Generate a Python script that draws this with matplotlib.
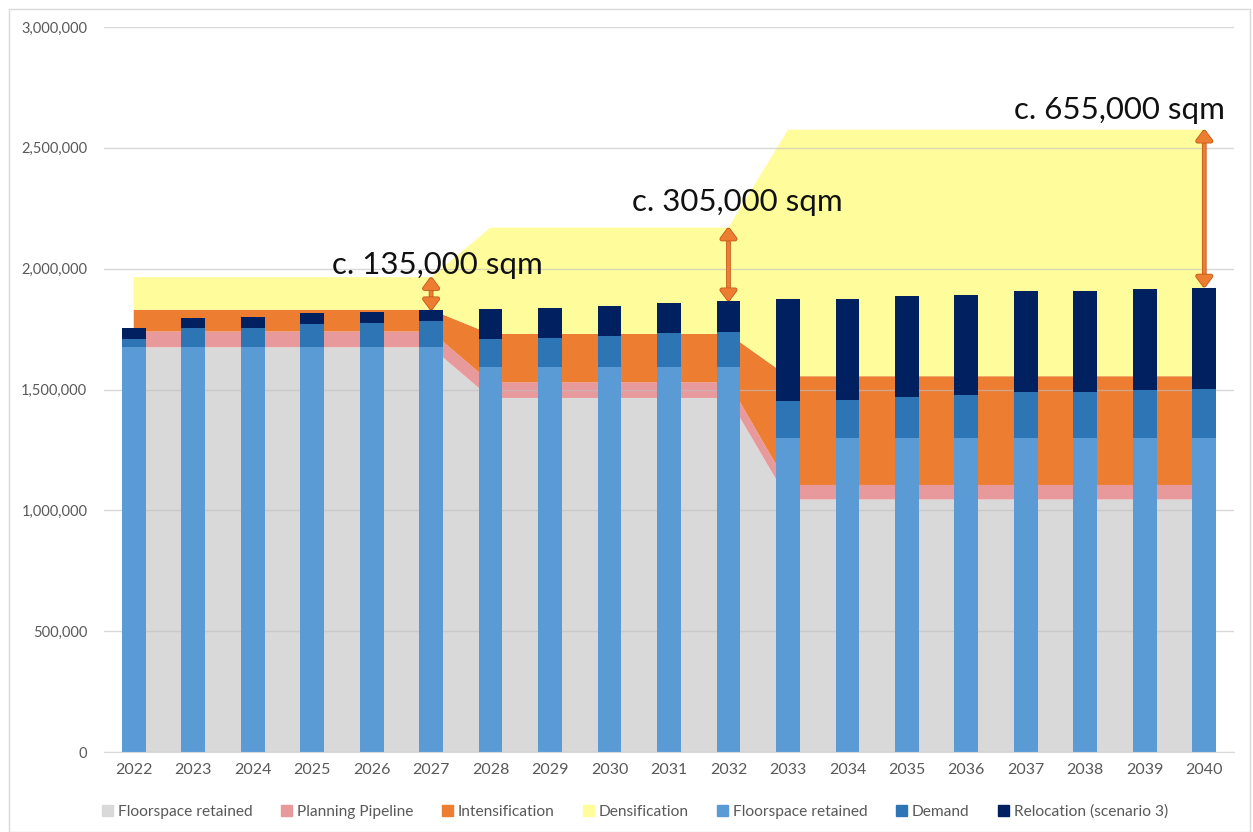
import numpy as np
import matplotlib
matplotlib.use("Agg")
import matplotlib.pyplot as plt
import matplotlib.patheffects as pe
from matplotlib.patches import Patch, Rectangle
from matplotlib.ticker import FuncFormatter

plt.rcParams["font.family"] = ["Lato", "DejaVu Sans"]

years = ["2022", "2023", "2024", "2025", "2026", "2027", "2028", "2029", "2030", "2031",
         "2032", "2033", "2034", "2035", "2036", "2037", "2038", "2039", "2040"]

# stacked area series (supply)
area_retained = [1675000, 1675000, 1675000, 1675000, 1675000, 1675000,
                 1465000, 1465000, 1465000, 1465000, 1465000,
                 1045000, 1045000, 1045000, 1045000, 1045000, 1045000, 1045000, 1045000]
pipeline = [65000, 65000, 65000, 65000, 65000, 65000,
            65000, 65000, 65000, 65000, 65000,
            60000, 60000, 60000, 60000, 60000, 60000, 60000, 60000]
intensification = [90000, 90000, 90000, 90000, 90000, 90000,
                   200000, 200000, 200000, 200000, 200000,
                   450000, 450000, 450000, 450000, 450000, 450000, 450000, 450000]
densification = [135000, 135000, 135000, 135000, 135000, 135000,
                 440000, 440000, 440000, 440000, 440000,
                 1020000, 1020000, 1020000, 1020000, 1020000, 1020000, 1020000, 1020000]

# stacked bar series (need)
bar_retained = [1675000, 1675000, 1675000, 1675000, 1675000, 1675000,
                1595000, 1595000, 1595000, 1595000, 1595000,
                1300000, 1300000, 1300000, 1300000, 1300000, 1300000, 1300000, 1300000]
demand = [36000, 78000, 81000, 96000, 99000, 110000,
          114000, 120000, 128000, 137000, 142000,
          153000, 157000, 169000, 176000, 189000, 189000, 200000, 203000]
relocation = [43000, 44000, 46000, 47000, 46000, 43000,
              123000, 124000, 124000, 124000, 128000,
              421000, 417000, 416000, 416000, 419000, 419000, 416000, 419000]

gap_labels = ["c. 135,000 sqm", "c. 305,000 sqm", "c. 655,000 sqm"]
gap_years = ["2027", "2032", "2040"]

c_grey = "#D9D9D9"
c_pink = "#E8999B"
c_orange = "#ED7D31"
c_yellow = "#FFFD9B"
c_lblue = "#5B9BD5"
c_mblue = "#2E75B6"
c_navy = "#002060"
txt = "#595959"

x = np.arange(len(years))

fig = plt.figure(figsize=(12.53, 8.32), dpi=100)
ax = fig.add_axes([104 / 1253, 1 - 752 / 832, (1234 - 104) / 1253, (752 - 27) / 832])

ax.stackplot(x, area_retained, pipeline, intensification, densification,
             colors=[c_grey, c_pink, c_orange, c_yellow], zorder=1)

b1 = np.array(bar_retained)
b2 = b1 + np.array(demand)
top = b2 + np.array(relocation)
ax.bar(x, bar_retained, width=0.4, color=c_lblue, zorder=2)
ax.bar(x, demand, width=0.4, bottom=b1, color=c_mblue, zorder=2)
ax.bar(x, relocation, width=0.4, bottom=b2, color=c_navy, zorder=2)

supply_top = (np.array(area_retained) + np.array(pipeline)
              + np.array(intensification) + np.array(densification))

# gap arrows and labels
text_pos = [(5.1, 1978000), (10.15, 2240000), (16.57, 2620000)]
for lab, yr, (tx, ty) in zip(gap_labels, gap_years, text_pos):
    i = years.index(yr)
    ax.annotate("", xy=(i, top[i]), xytext=(i, supply_top[i]),
                arrowprops=dict(arrowstyle="<|-|>,head_length=0.4,head_width=0.3",
                                color=c_orange, lw=2.2, shrinkA=0, shrinkB=0,
                                mutation_scale=16,
                                path_effects=[pe.withStroke(linewidth=3.4, foreground="#C45A1A")]),
                zorder=4)
    ax.text(tx, ty, lab, ha="center", va="baseline", fontsize=22.5, color="#111111", zorder=5)

ax.set_xlim(-0.5, len(years) - 0.5)
ax.set_ylim(0, 3000000)
ax.set_yticks(np.arange(0, 3000001, 500000))
ax.yaxis.set_major_formatter(FuncFormatter(lambda v, p: f"{v:,.0f}"))
ax.set_xticks(x)
ax.set_xticklabels(years)
ax.tick_params(axis="both", length=0, colors=txt)
ax.tick_params(axis="y", labelsize=10.5, pad=12)
ax.tick_params(axis="x", labelsize=11.5, pad=8)

ax.set_axisbelow("line")
ax.yaxis.grid(True, color="#BFBFBF", alpha=0.6, lw=1)
for s in ["top", "right", "left"]:
    ax.spines[s].set_visible(False)
ax.spines["bottom"].set_color(c_grey)

handles = [Patch(color=c_grey), Patch(color=c_pink), Patch(color=c_orange), Patch(color=c_yellow),
           Patch(color=c_lblue), Patch(color=c_mblue), Patch(color=c_navy)]
labels = ["Floorspace retained", "Planning Pipeline", "Intensification", "Densification",
          "Floorspace retained", "Demand", "Relocation (scenario 3)"]
fig.legend(handles, labels, loc="center", bbox_to_anchor=(0.507, 1 - 812 / 832), ncol=7,
           frameon=False, fontsize=11.2, labelcolor=txt, handlelength=0.7, handleheight=0.7,
           handletextpad=0.3, columnspacing=1.85)

fig.add_artist(Rectangle((9 / 1253, 0), (1250 - 9) / 1253, (831 - 9) / 832 + 1 / 832,
                         transform=fig.transFigure, fill=False, edgecolor=c_grey, lw=1))

fig.savefig("out.png", dpi=100)
